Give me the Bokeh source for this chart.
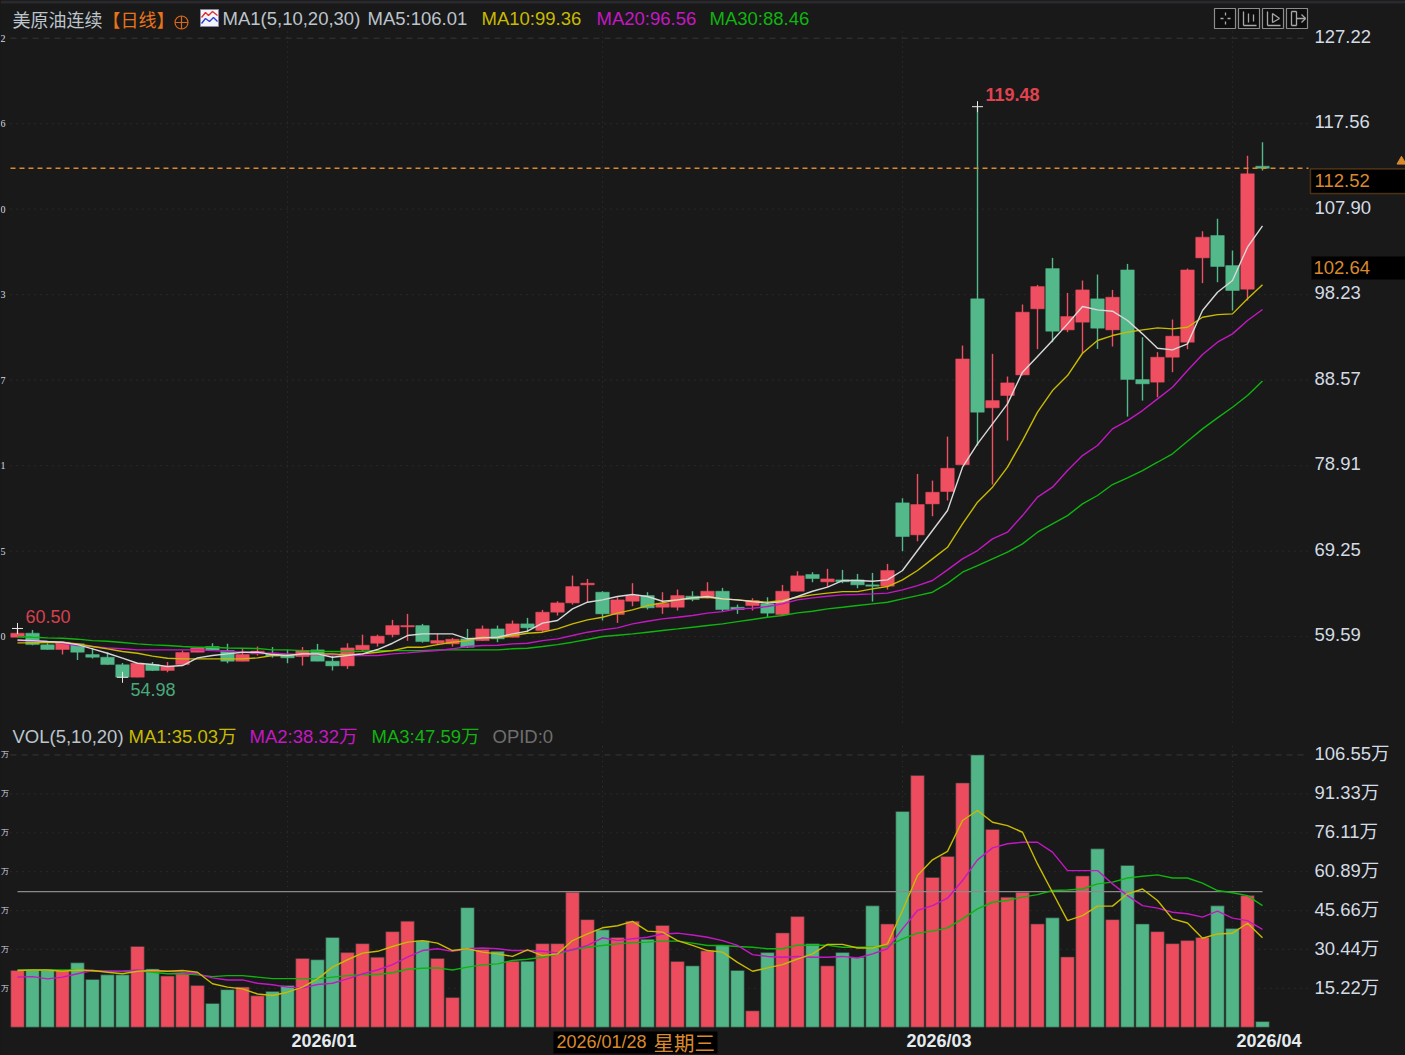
from bokeh.plotting import figure
from bokeh.layouts import column
from bokeh.models import (ColumnDataSource, Range1d, LinearAxis, FixedTicker, Label, LabelSet,
                          BoxAnnotation, NumeralTickFormatter)
from bokeh.embed import file_html
from bokeh.resources import INLINE

# ---------- data ----------
opens = [59.51,59.97,58.65,58.12,58.76,57.55,57.25,56.39,55.00,56.42,
         55.75,56.42,57.82,58.46,58.00,56.80,57.63,57.70,57.44,57.33,
         58.08,56.80,56.27,58.08,58.83,59.80,60.68,60.83,58.83,58.76,
         59.33,59.13,60.45,59.51,61.02,60.27,62.34,63.39,65.43,64.60,
         62.08,63.58,64.22,62.90,62.90,64.15,63.96,64.71,62.90,63.09,
         63.28,62.08,64.71,66.60,65.77,65.99,65.99,65.43,65.28,74.70,
         71.08,74.58,75.98,79.00,97.76,85.44,86.83,89.16,96.63,101.18,
         94.25,95.12,97.76,94.25,101.03,88.64,88.34,91.16,92.86,102.39,
         104.92,101.52,98.85,112.75]
closes = [59.97,58.68,58.12,58.95,57.82,57.25,56.42,55.00,56.57,55.75,
          56.20,57.78,58.30,58.08,56.80,57.55,57.93,57.40,57.18,58.00,
          56.80,56.27,58.30,58.60,59.63,60.83,60.83,59.02,59.13,59.28,
          58.38,60.45,59.33,61.02,60.57,62.34,63.39,65.24,65.62,62.15,
          63.73,64.22,62.83,63.35,64.22,63.77,64.71,62.64,62.64,63.66,
          62.23,64.71,66.45,66.14,66.10,65.77,65.43,65.28,67.05,70.89,
          74.51,75.90,78.61,90.97,84.95,86.26,88.26,96.25,99.15,94.10,
          95.76,98.77,94.44,97.94,88.64,88.15,91.16,93.54,101.03,104.73,
          101.41,98.70,111.89,112.52]
highs = [60.50,60.34,58.83,58.95,58.80,58.30,57.80,56.60,56.60,56.70,
         56.70,58.00,58.35,58.83,58.76,58.20,58.46,58.40,58.08,58.40,
         58.76,57.44,58.83,59.80,59.80,61.47,62.15,61.02,59.90,59.43,
         60.45,60.83,60.83,61.40,61.70,62.60,63.58,66.48,66.10,64.71,
         64.03,65.62,64.60,64.60,64.90,64.71,65.73,65.09,63.20,63.92,
         64.03,65.43,66.97,66.86,67.24,67.12,66.67,66.78,67.80,75.22,
         77.97,77.22,82.19,92.48,119.48,91.54,88.98,97.12,99.34,102.39,
         98.43,99.83,100.51,98.77,101.71,93.42,91.73,95.42,101.18,105.41,
         106.80,103.22,113.92,115.47]
lows = [59.50,58.60,58.10,57.55,56.95,57.10,56.40,54.98,55.00,55.70,
        55.55,56.40,57.80,58.05,56.57,56.80,57.44,57.20,56.57,56.30,
        56.80,55.75,55.93,57.93,58.46,59.50,59.10,58.90,58.70,58.46,
        58.30,59.10,58.95,59.50,60.08,60.08,61.96,63.20,63.47,61.40,
        61.13,63.02,62.64,62.15,62.53,63.58,63.90,62.45,62.15,62.53,
        61.77,62.00,64.70,65.73,65.17,65.62,65.05,63.54,64.90,69.23,
        70.36,73.19,74.96,79.00,81.18,76.77,81.74,89.10,92.07,92.86,
        93.99,91.54,92.10,92.37,84.45,86.26,86.64,89.47,92.07,99.53,
        99.64,96.44,97.57,112.26]
ma5 = [59.20,59.13,59.02,58.95,58.68,58.20,57.70,57.14,56.57,56.42,
       56.20,56.31,57.18,57.44,57.63,57.82,57.82,57.55,57.44,57.63,
       57.63,57.25,57.44,57.63,58.12,58.83,59.70,59.89,59.89,59.89,
       59.33,59.44,59.51,59.89,60.19,61.10,61.40,62.72,63.47,63.73,
       64.11,64.34,64.11,63.58,63.73,63.96,64.11,63.85,63.73,63.54,
       63.36,63.54,64.11,64.71,65.17,65.92,65.92,65.84,65.99,67.05,
       69.31,71.57,73.83,78.73,81.37,83.63,85.89,89.47,91.24,93.05,
       94.93,96.89,96.51,96.36,95.31,93.80,92.18,91.99,92.67,96.44,
       98.51,99.83,103.60,106.01]
ma10 = [58.87,58.87,58.91,58.95,58.76,58.46,58.20,57.89,57.70,57.37,
        57.14,57.06,57.06,57.06,57.06,57.06,57.18,57.44,57.44,57.63,
        57.63,57.63,57.52,57.63,57.82,58.00,58.38,58.38,58.68,58.95,
        59.13,59.51,59.44,59.70,59.96,60.08,60.45,61.02,61.47,61.77,
        62.23,62.60,63.09,63.39,63.73,63.96,64.03,63.85,63.73,63.58,
        63.47,63.66,64.03,64.30,64.49,64.67,64.67,64.98,65.24,65.99,
        67.05,68.37,69.68,72.32,74.77,76.47,78.73,81.74,84.95,87.39,
        89.09,91.61,93.05,93.61,93.99,94.25,94.48,94.36,94.55,95.68,
        95.98,96.06,97.76,99.36]
ma20 = [59.13,59.09,59.02,58.83,58.57,58.46,58.30,58.20,58.08,58.08,
        58.08,58.08,58.08,58.00,57.93,57.82,57.70,57.70,57.63,57.55,
        57.55,57.52,57.44,57.44,57.44,57.63,57.74,57.89,58.00,58.20,
        58.46,58.57,58.60,58.76,58.83,59.13,59.33,59.70,60.08,60.34,
        60.57,61.02,61.32,61.59,61.77,61.96,62.23,62.41,62.72,62.79,
        62.98,63.28,63.73,63.96,64.15,64.30,64.34,64.41,64.49,64.86,
        65.35,65.92,67.12,68.37,69.31,70.63,71.38,73.26,75.34,76.47,
        78.35,80.04,81.18,83.06,84.00,85.13,86.45,87.77,89.65,91.46,
        92.86,93.80,95.31,96.56]
ma30 = [59.59,59.51,59.44,59.40,59.29,59.13,59.06,58.91,58.76,58.65,
        58.57,58.46,58.38,58.38,58.30,58.27,58.23,58.08,58.08,58.00,
        57.93,57.89,57.89,57.93,58.00,58.00,58.00,58.00,58.08,58.08,
        58.08,58.08,58.08,58.20,58.27,58.46,58.68,58.95,59.25,59.59,
        59.74,59.89,60.08,60.27,60.45,60.64,60.83,61.02,61.28,61.51,
        61.77,61.96,62.26,62.45,62.72,62.90,63.09,63.28,63.47,63.85,
        64.22,64.60,65.60,66.86,67.61,68.37,69.12,70.06,71.38,72.32,
        73.26,74.58,75.53,76.77,77.52,78.35,79.29,80.24,81.67,83.06,
        84.30,85.51,86.83,88.46]
volumes = [22.2,22.4,22.4,22.2,25.2,18.7,20.5,20.5,31.6,22.8,
           20.0,20.9,16.3,9.3,14.7,15.7,12.3,14.0,16.3,26.9,
           26.4,35.1,29.2,32.7,27.4,37.4,41.5,33.9,26.9,11.6,
           46.8,30.4,29.7,25.8,25.8,32.7,32.7,52.8,42.1,38.1,
           35.1,41.5,34.4,39.8,25.7,24.0,29.9,32.1,22.2,6.4,
           29.2,36.9,43.3,32.7,24.0,29.2,27.4,47.5,40.4,84.4,
           98.5,58.6,66.8,95.6,106.55,77.4,50.9,52.8,40.4,42.8,
           27.5,59.2,69.8,42.1,63.3,40.4,37.4,32.7,33.9,35.1,
           47.5,38.6,51.5,2.2]
vol_ma1 = [22.2,22.4,22.4,21.9,22.4,22.2,21.5,20.9,21.9,22.2,
           21.9,22.2,21.5,17.0,15.7,15.0,13.0,12.4,13.7,15.7,
           18.9,23.5,26.4,29.0,29.7,31.6,33.3,33.9,32.9,30.0,
           30.7,29.4,28.7,27.7,30.3,28.0,28.7,33.9,36.5,38.9,
           39.7,41.4,37.6,37.2,33.9,32.0,30.0,29.4,25.4,21.9,
           23.2,24.5,26.7,28.7,32.4,32.4,31.0,31.0,32.6,45.7,
           59.4,65.5,68.8,80.9,84.8,80.2,78.9,76.3,63.9,52.8,
           41.7,43.7,47.4,47.4,52.2,54.1,49.6,42.4,40.8,34.8,
           36.5,36.8,40.7,35.03]
vol_ma2 = [19.6,19.8,18.9,19.6,20.9,22.2,21.9,21.9,22.4,21.9,
           21.9,21.5,20.9,19.3,18.5,18.5,17.2,16.6,15.7,15.4,
           16.7,17.2,18.9,20.9,22.4,24.5,27.4,30.0,30.7,29.7,
           30.7,31.0,30.7,30.0,30.0,29.7,29.1,30.3,32.0,35.0,
           33.9,34.6,35.2,36.5,36.8,36.1,35.2,33.9,32.0,28.4,
           27.7,27.4,27.7,27.4,27.4,27.7,27.1,28.7,30.7,38.5,
           45.7,47.6,50.5,57.4,65.5,70.2,71.8,72.4,72.4,68.5,
           61.3,61.3,61.3,56.1,51.5,47.6,46.6,45.0,44.4,43.1,
           45.4,42.7,41.7,38.32]
vol_ma3 = [22.4,22.4,22.4,22.4,22.4,21.9,21.9,21.8,22.2,21.5,
           20.9,20.9,20.5,19.8,20.2,20.2,19.6,19.0,19.0,19.0,
           18.9,19.6,20.2,20.6,20.6,21.3,22.7,23.1,23.2,22.4,
           23.5,24.4,24.8,26.1,26.6,27.4,28.7,30.3,31.3,32.0,
           32.6,33.1,33.3,33.7,33.7,32.9,32.0,32.0,31.6,31.3,
           30.7,30.7,32.1,32.1,32.1,31.3,31.3,31.3,31.6,34.6,
           36.8,37.6,38.9,42.4,46.3,48.9,49.6,50.9,51.9,53.5,
           53.7,54.1,56.1,56.8,58.4,59.1,59.6,58.4,58.4,56.4,
           53.5,52.6,51.5,47.59]
price_ticks = [127.22, 117.56, 107.90, 98.23, 88.57, 78.91, 69.25, 59.59]
price_frag = ["2", "6", "0", "3", "7", "1", "5", "0"]
vol_ticks = [106.55, 91.33, 76.11, 60.89, 45.66, 30.44, 15.22]
month_idx = [18, 59, 81]
month_labels = ["2026/01", "2026/03", "2026/04"]
grid_idx = [18, 39, 59, 81]
last_price = 112.52
cursor_price = 102.64
vol_ref = 53.1
cursor_date = "2026/01/28"
cursor_weekday = "星期三"

for a in (opens, closes, highs, lows, ma5, ma10, ma20, ma30, volumes, vol_ma1, vol_ma2, vol_ma3):
    assert len(a) == 84

# ---------- style ----------
BG = "#191919"
RED = "#ef4f60"
GREEN = "#53b98a"
ORANGE = "#d98a2c"
AXIS_TXT = "#d3dbe4"
GRAY_TXT = "#bcc4cc"
YEL = "#c8bb00"
MAG = "#c418c4"
GRN = "#0fb40f"
GRID = "#333333"
FONT = "'Liberation Sans', 'Noto Sans CJK SC'"
CJK = "'Noto Sans CJK SC'"
FS = "18.5px"

WIDTH = 1405
AXIS_X = 1308


def PX(px):
    return (px - 17) / 15.0


def PY(py):
    return 127.22 - (py - 37.7) / 8.847


def VY(py):
    return (1026.7 - py) / 2.555


idx = list(range(84))
src = ColumnDataSource(dict(
    x=idx,
    top=[max(o, c) for o, c in zip(opens, closes)],
    bottom=[min(o, c) for o, c in zip(opens, closes)],
    high=highs, low=lows,
    color=[GREEN if c < o else RED for o, c in zip(opens, closes)],
    vol=volumes,
    vcolor=["#52b587" if c < o else "#ec4c5e" for o, c in zip(opens, closes)],
))


def base(height, yr, grid_top, grid_bottom):
    p = figure(width=WIDTH, height=height, output_backend="svg", toolbar_location=None,
               x_range=Range1d(PX(0), PX(WIDTH)), y_range=yr,
               x_axis_location=None, y_axis_location=None,
               min_border_left=0, min_border_right=0, min_border_top=0, min_border_bottom=0,
               background_fill_color=BG, border_fill_color=BG, outline_line_color=None)
    p.grid.visible = False
    for g in grid_idx:
        p.line([g, g], [grid_bottom, grid_top], line_color=GRID, line_dash=[1, 4], line_width=1)
    return p


def right_axis(p, ticks, shift, overrides=None):
    # the labels sit a little above their grid lines, as in the original program
    p.extra_y_ranges = {"labels": Range1d(p.y_range.start - shift, p.y_range.end - shift)}
    ax = LinearAxis(y_range_name="labels", ticker=FixedTicker(ticks=ticks), axis_line_color=None,
                    fixed_location=PX(AXIS_X),
                    major_tick_line_color=None, minor_tick_line_color=None, major_tick_out=0, major_tick_in=0,
                    major_label_text_color=AXIS_TXT, major_label_text_font=FONT,
                    major_label_text_font_size=FS, major_label_standoff=6)
    if overrides:
        ax.major_label_overrides = overrides
    else:
        ax.formatter = NumeralTickFormatter(format="0.00")
    p.add_layout(ax, "right")
    for t in ticks[1:]:
        p.line([PX(10), PX(AXIS_X)], [t, t], line_color=GRID, line_dash=[1, 5], line_width=1.2)
    p.line([PX(10), PX(AXIS_X)], [ticks[0], ticks[0]], line_color="#383838", line_dash=[6, 5], line_width=1)


def text(p, s, px, y, color, size="18px", font=FONT, style="normal", **kw):
    p.add_layout(Label(x=PX(px), y=y, text=s, text_color=color, text_font=font, text_font_size=size,
                       text_font_style=style, text_baseline="middle", **kw))


# ---------- price pane ----------
price = base(725, Range1d(PY(725), PY(0)), PY(30), PY(722))
right_axis(price, price_ticks, 1.7 / 8.847)

# thin lighter band on the very top of the window
price.quad(left=[PX(0)], right=[PX(WIDTH)], top=[PY(0)], bottom=[PY(3)], fill_color="#2a2a2e", line_color=None)

price.segment("x", "low", "x", "high", source=src, line_color="color", line_width=1.4)
price.vbar("x", width=0.9, top="top", bottom="bottom", source=src, fill_color="color", line_color="color", line_width=0.5)

for arr, col, w in ((ma30, GRN, 1.4), (ma20, MAG, 1.4), (ma10, YEL, 1.4), (ma5, "#d8d8d8", 1.4)):
    price.line(idx, arr, line_color=col, line_width=w)

extreme_i = [0, 7, 64]
price.scatter(extreme_i, [highs[0], lows[7], highs[64]], marker="cross", size=11, line_color="#e8e8e8", line_width=1)

price.line([PX(10), PX(AXIS_X)], [last_price, last_price], line_color=ORANGE, line_dash=[5, 4], line_width=1.3)

# high / low notes
text(price, "119.48", 985, highs[64] + 1.4, "#e0434f", style="bold")
text(price, "60.50", 25, highs[0] + 1.35, "#d8404e")
text(price, "54.98", 130, lows[7] - 1.4, "#4aa97c")

# header
text(price, "美原油连续", 12, PY(18), GRAY_TXT, font=CJK)
text(price, "【日线】", 102, PY(18), "#e8741a", font=CJK)
price.scatter([PX(181)], [PY(22)], marker="circle_cross", size=13, fill_color=None, line_color="#d9661a", line_width=1.2)
text(price, "MA1(5,10,20,30)", 222, PY(18.2), GRAY_TXT, size=FS)
text(price, "MA5:106.01", 367, PY(18.2), GRAY_TXT, size=FS)
text(price, "MA10:99.36", 481, PY(18.2), YEL, size=FS)
text(price, "MA20:96.56", 596, PY(18.2), MAG, size=FS)
text(price, "MA30:88.46", 709, PY(18.2), GRN, size=FS)

# small chart icon in the header
price.quad(left=[PX(200)], right=[PX(218)], top=[PY(9)], bottom=[PY(26)], fill_color="#f4f4f8", line_color="#8a8aa8")
price.line([PX(201), PX(205), PX(208), PX(212), PX(217)], [PY(17), PY(12), PY(15), PY(11), PY(15)], line_color="#e03030", line_width=1.4)
price.line([PX(201), PX(205), PX(209), PX(213), PX(217)], [PY(23), PY(18), PY(21), PY(17), PY(21)], line_color="#3040d0", line_width=1.4)

# toolbar buttons
btn_left = [1214, 1238, 1262, 1286]
price.quad(left=[PX(b) for b in btn_left], right=[PX(b + 21) for b in btn_left],
           top=[PY(8)] * 4, bottom=[PY(28)] * 4, fill_color="#0d0d0d", line_color="#8c8c8c", line_width=1.2)
icon_segments = [
    (1220, 18, 1223, 18), (1227, 18, 1230, 18), (1225, 12, 1225, 15), (1225, 21, 1225, 24),
    (1243, 11, 1243, 25), (1243, 25, 1256, 25), (1248, 13, 1248, 22), (1253, 14, 1253, 21),
    (1267, 11, 1267, 25), (1267, 25, 1280, 25), (1272, 13, 1272, 22), (1272, 13, 1279, 18), (1272, 22, 1279, 18),
    (1291, 11, 1291, 25), (1291, 11, 1296, 11), (1296, 11, 1296, 25), (1291, 25, 1296, 25), (1296, 18, 1305, 18), (1301, 14, 1305, 18), (1301, 22, 1305, 18),
]
price.segment([PX(s[0]) for s in icon_segments], [PY(s[1]) for s in icon_segments],
              [PX(s[2]) for s in icon_segments], [PY(s[3]) for s in icon_segments],
              line_color="#a8a8a8", line_width=1.3)

# price boxes on the right
price.add_layout(BoxAnnotation(left=PX(1310), right=PX(1407), top=PY(168.5), bottom=PY(193),
                               fill_color="#000000", fill_alpha=1, line_color=ORANGE, line_width=1.5, level="overlay"))
price.add_layout(BoxAnnotation(left=PX(1311), right=PX(1407), top=PY(256), bottom=PY(279),
                               fill_color="#000000", fill_alpha=1, line_color=None, level="overlay"))
price.add_layout(Label(x=PX(1314), y=PY(179.5), text=f"{last_price:.2f}", text_color=ORANGE, text_font=FONT,
                       text_font_size=FS, text_baseline="middle", level="overlay"))
price.add_layout(Label(x=PX(1313), y=PY(266.5), text=f"{cursor_price:.2f}", text_color=ORANGE, text_font=FONT,
                       text_font_size=FS, text_baseline="middle", level="overlay"))
price.scatter([PX(1401)], [PY(161)], marker="triangle", size=9, fill_color=ORANGE, line_color=ORANGE)

# labels of the neighbouring left-hand pane, only a sliver of which shows
frag_src = ColumnDataSource(dict(x=[PX(0)] * len(price_ticks), y=price_ticks, t=price_frag))
price.add_layout(LabelSet(x="x", y="y", text="t", source=frag_src, text_align="left", text_baseline="middle",
                          text_color=AXIS_TXT, text_font="Liberation Sans", text_font_size="10px"))

# ---------- volume pane ----------
vol = base(330, Range1d(VY(1055), VY(725)), VY(745), 0)
right_axis(vol, vol_ticks, 1.0 / 2.555, {t: f"{t:.2f}万" for t in vol_ticks})

vol.vbar("x", width=0.9, top="vol", bottom=0, source=src, fill_color="vcolor", line_color="#2e3a34", line_width=0.6)
vol.line([0, 83], [vol_ref, vol_ref], line_color="#8a8a8a", line_width=1.2)
for arr, col in ((vol_ma3, GRN), (vol_ma2, MAG), (vol_ma1, YEL)):
    vol.line(idx, arr, line_color=col, line_width=1.4)

text(vol, "VOL(5,10,20)", 12, VY(736), GRAY_TXT, size=FS)
text(vol, "MA1:35.03万", 128, VY(736), YEL, size=FS)
text(vol, "MA2:38.32万", 249, VY(736), MAG, size=FS)
text(vol, "MA3:47.59万", 371, VY(736), GRN, size=FS)
text(vol, "OPID:0", 492, VY(736), "#6e6e6e", size=FS)

for m_i, m_t in zip(month_idx, month_labels):
    vol.add_layout(Label(x=m_i, y=0, text=m_t, x_offset=4, y_offset=-14, text_align="left", text_baseline="middle",
                         text_color="#e6ebf0", text_font=FONT, text_font_size="18px", text_font_style="bold"))
vol.add_layout(BoxAnnotation(left=PX(553), right=PX(717), top=VY(1031), bottom=VY(1053),
                             fill_color="#000000", fill_alpha=1, line_color=None, level="overlay"))
vol.add_layout(Label(x=PX(556), y=VY(1041), text=cursor_date, text_color=ORANGE, text_font=FONT,
                     text_font_size="18px", text_baseline="middle", level="overlay"))
vol.add_layout(Label(x=PX(653), y=VY(1041), text=cursor_weekday, text_color=ORANGE, text_font=CJK,
                     text_font_size="20.5px", text_baseline="middle", level="overlay"))

frag2_src = ColumnDataSource(dict(x=[PX(0)] * len(vol_ticks), y=vol_ticks, t=["万"] * len(vol_ticks)))
vol.add_layout(LabelSet(x="x", y="y", text="t", source=frag2_src, text_align="left", text_baseline="middle",
                        text_color=AXIS_TXT, text_font="Noto Sans CJK SC", text_font_size="8px"))

layout = column(price, vol, spacing=0)
html = file_html(layout, INLINE)
html = html.replace("</head>", f"<style>html,body{{background:{BG};}}</style></head>", 1)
open("out.html", "w").write(html)
